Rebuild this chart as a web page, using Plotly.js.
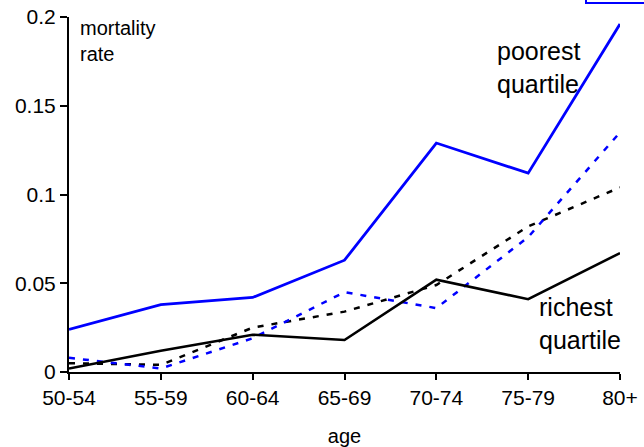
<!DOCTYPE html>
<html>
<head>
<meta charset="utf-8">
<script src="https://cdn.plot.ly/plotly-3.0.1.min.js"></script>
<style>html,body{margin:0;padding:0;background:#fff;}#chart{width:644px;height:447px;}</style>
</head>
<body>
<div id="chart"></div>
<script>
const ageGroups = ["50-54", "55-59", "60-64", "65-69", "70-74", "75-79", "80+"];
const poorestQuartile = [0.024, 0.038, 0.042, 0.063, 0.129, 0.112, 0.196];
const richestQuartile = [0.002, 0.012, 0.021, 0.018, 0.052, 0.041, 0.067];
const poorestDashed = [0.008, 0.002, 0.019, 0.045, 0.036, 0.076, 0.135];
const richestDashed = [0.005, 0.004, 0.025, 0.034, 0.049, 0.082, 0.104];
const yTicks = [0, 0.05, 0.1, 0.15, 0.2];
const yTickLabels = ["0", "0.05", "0.1", "0.15", "0.2"];

const FONT = "Liberation Sans, Arial, sans-serif";

const traces = [
  {x: ageGroups, y: richestDashed, mode: "lines", name: "richest (dashed)",
   line: {color: "#000000", width: 2.5, dash: "6px,8px"}},
  {x: ageGroups, y: poorestDashed, mode: "lines", name: "poorest (dashed)",
   line: {color: "#0000ff", width: 2.5, dash: "6px,8px"}},
  {x: ageGroups, y: richestQuartile, mode: "lines", name: "richest quartile",
   line: {color: "#000000", width: 2.6}},
  {x: ageGroups, y: poorestQuartile, mode: "lines", name: "poorest quartile",
   line: {color: "#0000ff", width: 2.8}}
];

const layout = {
  width: 644, height: 447,
  margin: {l: 69, r: 24, t: 17, b: 75},
  paper_bgcolor: "#ffffff", plot_bgcolor: "#ffffff",
  showlegend: false,
  font: {family: FONT, size: 21, color: "#000"},
  xaxis: {
    type: "category", range: [0, 6],
    showgrid: false, zeroline: false,
    showline: true, linecolor: "#000", linewidth: 2,
    ticks: "outside", ticklen: 6, tickwidth: 2, tickcolor: "#000",
    tickfont: {family: FONT, size: 21, color: "#000"},
    title: {text: "age", font: {family: FONT, size: 20, color: "#000"}, standoff: 22},
    automargin: false
  },
  yaxis: {
    range: [0, 0.2],
    tickvals: yTicks, ticktext: yTickLabels,
    showgrid: false, zeroline: false,
    showline: true, linecolor: "#000", linewidth: 2,
    ticks: "outside", ticklen: 7, tickwidth: 2, tickcolor: "#000",
    tickfont: {family: FONT, size: 21, color: "#000"},
    automargin: false
  },
  annotations: [
    {xref: "paper", yref: "paper", x: 0.016, y: 1.005, xanchor: "left", yanchor: "top",
     align: "left", showarrow: false, text: "mortality<br>rate",
     font: {family: FONT, size: 20, color: "#000"}},
    {xref: "paper", yref: "paper", x: (538 - 69) / 551, y: (372 - 67) / 355,
     xanchor: "center", yanchor: "middle", align: "left", showarrow: false,
     text: "poorest<br>quartile", font: {family: FONT, size: 25, color: "#000"}},
    {xref: "paper", yref: "paper", x: (580 - 69) / 551, y: (372 - 323) / 355,
     xanchor: "center", yanchor: "middle", align: "left", showarrow: false,
     text: "richest<br>quartile", font: {family: FONT, size: 25, color: "#000"}}
  ],
  shapes: [
    {type: "rect", xref: "paper", yref: "paper",
     x0: (586 - 69) / 551, x1: (652 - 69) / 551,
     y0: (372 - 3) / 355, y1: (372 + 20) / 355,
     line: {color: "#0000ff", width: 2}, fillcolor: "rgba(0,0,0,0)"}
  ]
};

Plotly.newPlot("chart", traces, layout, {displayModeBar: false, staticPlot: true});
</script>
</body>
</html>
